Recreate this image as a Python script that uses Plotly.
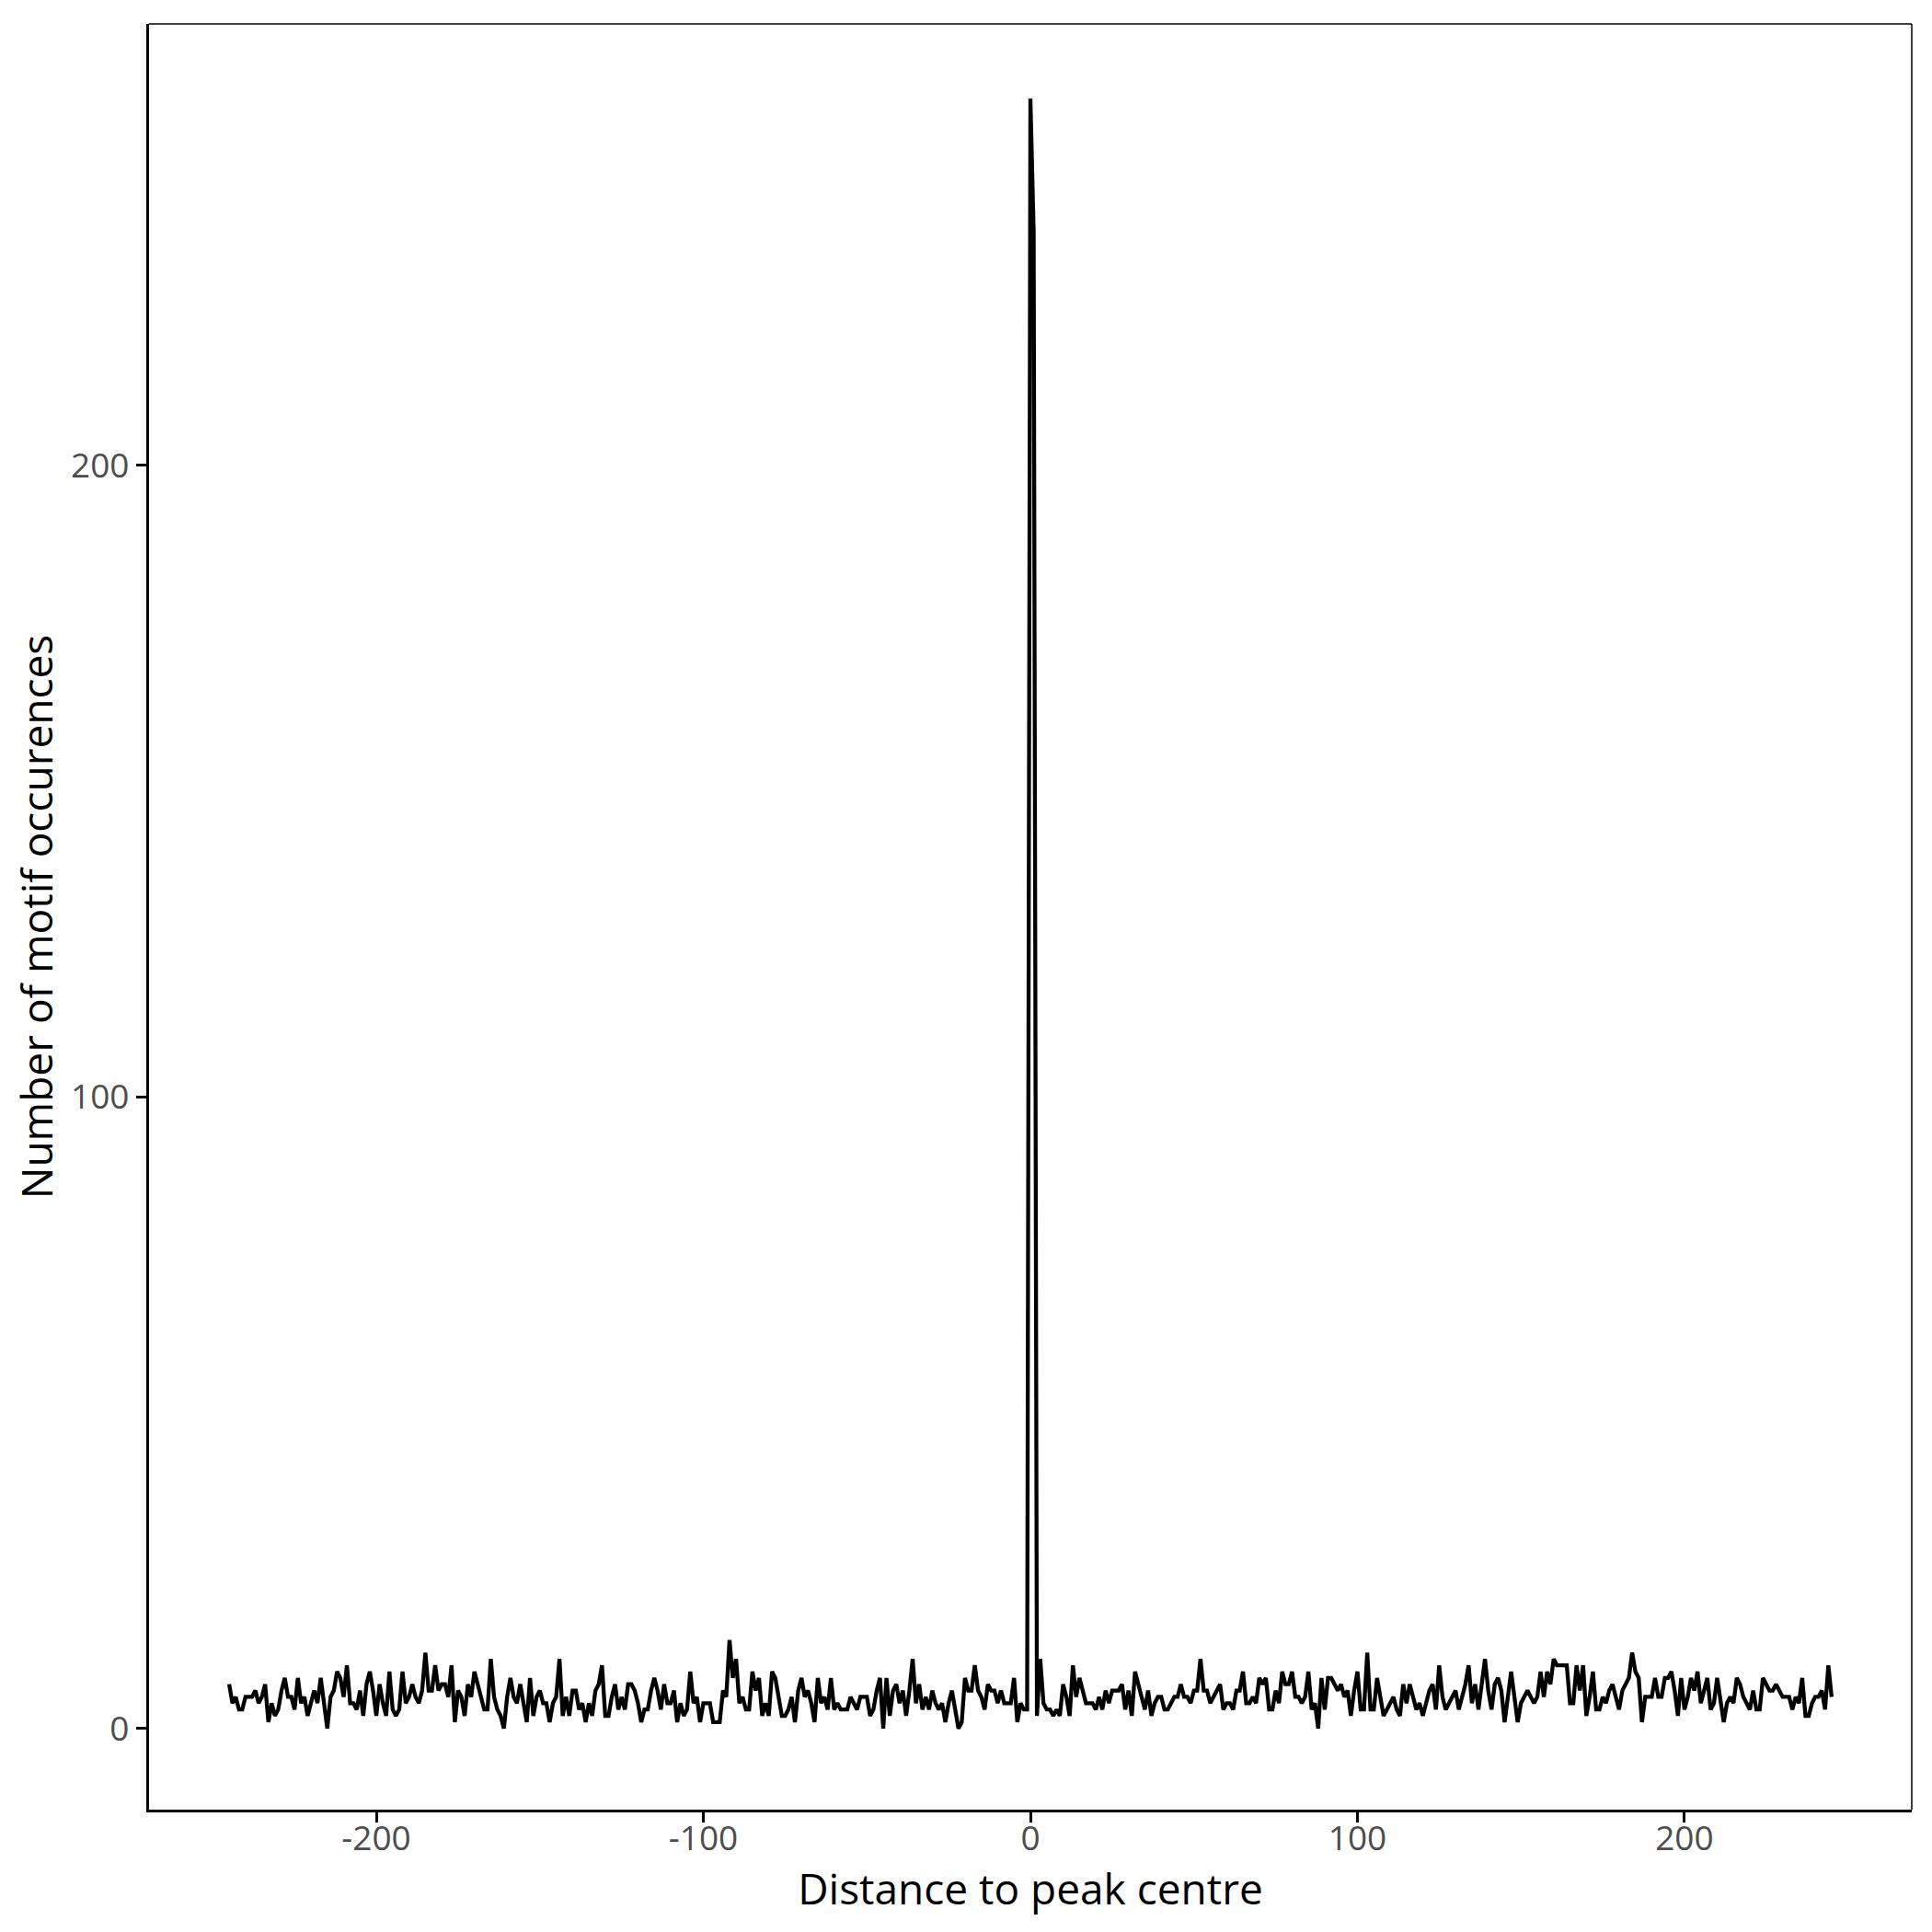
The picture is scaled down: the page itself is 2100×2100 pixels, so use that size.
import plotly.graph_objects as go

# Motif occurrence counts per distance (bp) to peak centre
counts_crop1 = [7, 4, 5, 3, 3, 5, 5, 5, 6, 4, 5, 7, 1, 4, 2, 3, 6, 8, 5, 5, 3, 8, 4, 5, 2, 4,
                6, 4, 8, 4, 0, 5, 6, 9, 8, 5, 10, 4, 4, 3, 6, 2, 7, 9]
counts_crop2 = [6, 2, 7, 4, 2, 9, 3, 2, 3, 9, 4, 5, 7, 5, 4, 6, 12, 6, 6, 10, 6, 7, 7, 5, 10,
                1, 6, 5, 2, 7, 5, 9, 7, 5, 3, 3, 11, 5, 3, 2, 0, 5, 8, 5, 4, 7]
counts_crop3 = [4, 1, 8, 2, 5, 6, 4, 4, 1, 4, 5, 11, 2, 5, 2, 6, 6, 3, 4, 1, 4, 2, 6, 7, 10,
                2, 2, 5, 7, 3, 5, 3, 7, 7, 6, 4, 1, 3, 3, 6, 8, 6, 3, 7, 4]
counts_crop4 = [4, 6, 1, 4, 2, 3, 9, 4, 5, 1, 4, 4, 4, 1, 1, 1, 6, 5, 14, 8, 11, 4, 5, 3, 3,
                9, 6, 8, 2, 4, 2, 9, 8, 5, 2, 2, 3, 5, 1, 6, 8, 5, 6, 4, 1]
counts_crop5 = [8, 4, 5, 3, 8, 3, 4, 3, 3, 3, 5, 4, 3, 5, 5, 5, 2, 3, 6, 8, 0, 8, 2, 6, 7,
                4, 6, 2, 6, 11, 4, 7, 3, 5, 3, 6, 4, 3, 4, 1, 4, 6, 3, 0]
counts_near_neg = [1, 8, 6, 6, 10, 6, 5, 3, 7, 6, 6, 4, 6, 4, 4, 4, 8, 1, 4, 3, 3]
counts_centre = [258, 237, 2, 11, 4, 3, 3, 2, 3, 2, 7, 5, 2, 10, 5, 8, 6, 4, 4, 4, 3, 5, 3, 6]
counts_pos1 = [4, 6, 6, 6, 7, 3, 6, 2, 9, 7, 5, 3, 6, 2, 4, 5, 5, 3, 3, 4, 5, 5, 7, 5, 5,
               4, 6, 6, 11, 6, 6, 4, 5, 6, 7, 3, 4, 4, 3, 6, 6, 9, 4, 4, 5]
counts_pos2 = [4, 8, 7, 8, 3, 3, 6, 4, 9, 7, 7, 9, 5, 5, 4, 5, 9, 3, 4, 0, 8, 3, 8, 8, 7,
               6, 7, 5, 6, 2, 6, 9, 3, 3, 12, 3, 3, 8, 5, 2, 3, 4, 5, 3, 2]
counts_pos3 = [7, 4, 7, 5, 3, 4, 2, 4, 6, 7, 3, 10, 5, 3, 4, 5, 6, 3, 5, 7, 10, 4, 7, 3, 7,
               11, 6, 3, 7, 8, 6, 1, 5, 9, 5, 1, 4, 5, 6, 5, 4, 5, 9, 5, 9]
counts_pos4 = [7, 11, 10, 10, 10, 10, 4, 4, 10, 6, 10, 2, 5, 9, 3, 3, 5, 4, 6, 7, 5, 3, 6, 7, 8,
               12, 9, 8, 1, 5, 5, 5, 8, 5, 5, 8, 8, 9, 6, 2, 8, 3, 5, 8, 6]
counts_pos5 = [9, 4, 6, 8, 3, 4, 8, 4, 1, 4, 5, 4, 8, 7, 5, 4, 3, 6, 3, 3, 8, 7, 6, 6, 7,
               6, 5, 5, 5, 3, 5, 4, 8, 2, 2, 4, 5, 5, 6, 3, 10, 5]

counts = (counts_crop1 + counts_crop2 + counts_crop3 + counts_crop4 + counts_crop5
          + counts_near_neg + counts_centre + counts_pos1 + counts_pos2 + counts_pos3
          + counts_pos4 + counts_pos5)
first_distance = -245
distance = list(range(first_distance, first_distance + len(counts)))

x_ticks = [-200, -100, 0, 100, 200]
x_tick_labels = ["-200", "-100", "0", "100", "200"]
y_ticks = [0, 100, 200]
y_tick_labels = ["0", "100", "200"]

FONT = "Open Sans"

fig = go.Figure()
fig.add_trace(go.Scatter(
    x=distance, y=counts, mode="lines",
    line=dict(color="black", width=4.3),
    showlegend=False, hoverinfo="skip",
))

fig.update_layout(
    width=2100, height=2100,
    paper_bgcolor="white", plot_bgcolor="white",
    margin=dict(l=154, r=30, t=18, b=141),
    font=dict(family=FONT, color="black"),
)
fig.update_xaxes(
    range=[-269.5, 269.5], tickvals=x_ticks, ticktext=x_tick_labels,
    showgrid=False, zeroline=False,
    showline=True, linecolor="black", linewidth=3.2,
    ticks="outside", ticklen=11, tickwidth=2.8, tickcolor="black",
    tickfont=dict(family=FONT, size=37, color="#4D4D4D"),
    ticklabelstandoff=-15,
    title=dict(text="Distance to peak centre", font=dict(family=FONT, size=46, color="black"),
               standoff=8),
)
fig.update_yaxes(
    range=[-12.85, 269.85], tickvals=y_ticks, ticktext=y_tick_labels,
    showgrid=False, zeroline=False,
    showline=True, linecolor="black", linewidth=3.2,
    ticks="outside", ticklen=11, tickwidth=2.8, tickcolor="black",
    tickfont=dict(family=FONT, size=37, color="#4D4D4D"),
    title=dict(text="Number of motif occurences", font=dict(family=FONT, size=46, color="black"),
               standoff=14),
)
# thin frame on top and right of the panel
fig.add_shape(type="line", xref="paper", yref="paper", x0=0, x1=1, y0=1, y1=1,
              line=dict(color="black", width=1.5))
fig.add_shape(type="line", xref="paper", yref="paper", x0=1, x1=1, y0=0, y1=1,
              line=dict(color="black", width=1.5))

fig.write_html("out.html")
